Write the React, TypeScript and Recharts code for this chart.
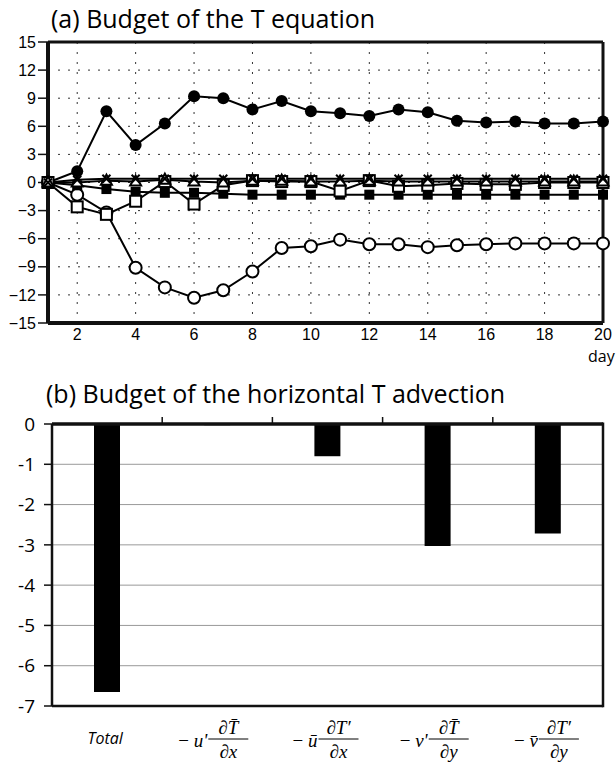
import { Bar, BarChart, CartesianGrid, Line, LineChart, ReferenceLine, XAxis, YAxis } from "recharts";

// (a) T 방정식 수지 — 일별 값
const days = [1, 2, 3, 4, 5, 6, 7, 8, 9, 10, 11, 12, 13, 14, 15, 16, 17, 18, 19, 20];
const tendency = [0, 1.2, 7.6, 4.0, 6.3, 9.2, 9.0, 7.8, 8.7, 7.6, 7.4, 7.1, 7.8, 7.5, 6.6, 6.4, 6.5, 6.3, 6.3, 6.5];
const horizAdv = [0, -1.3, -3.2, -9.1, -11.2, -12.3, -11.5, -9.5, -7.0, -6.8, -6.1, -6.6, -6.6, -6.9, -6.7, -6.6, -6.5, -6.5, -6.5, -6.5];
const vertAdv = [0, -2.6, -3.4, -2.0, 0.1, -2.3, -0.3, 0.2, 0.1, 0.1, -0.9, 0.2, -0.4, -0.3, -0.1, -0.2, -0.2, 0.0, 0.0, 0.0];
const damping = [0, -0.3, -0.7, -1.0, -1.1, -1.1, -1.2, -1.3, -1.3, -1.3, -1.3, -1.3, -1.3, -1.3, -1.3, -1.3, -1.3, -1.3, -1.3, -1.3];
const forcing = [0, 0.0, 0.2, 0.1, 0.3, 0.1, 0.0, 0.2, 0.2, 0.1, 0.1, 0.2, 0.1, 0.1, 0.1, 0.1, 0.1, 0.1, 0.1, 0.1];
const residual = [0, 0.3, 0.4, 0.4, 0.4, 0.4, 0.4, 0.4, 0.4, 0.4, 0.4, 0.4, 0.4, 0.4, 0.4, 0.4, 0.4, 0.4, 0.4, 0.4];
const dayTicks = [2, 4, 6, 8, 10, 12, 14, 16, 18, 20];
const tTicks = [-15, -12, -9, -6, -3, 0, 3, 6, 9, 12, 15];

// (b) 수평 이류 분해
const termPrefix = ["", "u'", "\u016B", "v'", "v\u0304"];
const termNumer = ["", "\u2202T\u0304", "\u2202T\u2032", "\u2202T\u0304", "\u2202T\u2032"];
const termDenom = ["", "\u2202x", "\u2202x", "\u2202y", "\u2202y"];
const advValues = [-6.65, -0.03, -0.8, -3.03, -2.72];
const advTicks = [0, -1, -2, -3, -4, -5, -6, -7];

const lineData = days.map((d, i) => ({
  day: d,
  tendency: tendency[i],
  horizAdv: horizAdv[i],
  vertAdv: vertAdv[i],
  damping: damping[i],
  forcing: forcing[i],
  residual: residual[i],
}));
const barData = advValues.map((v, i) => ({ term: i, value: v }));

const sans = "'Open Sans', sans-serif";
const arial = "'Liberation Sans', Arial, sans-serif";
const ink = "#111";

const W = 616;
const B = { top: 24, left: 52, right: 13, height: 364, xAxisH: 58 };

const FilledCircle = (p: any) => <circle key={p.index} cx={p.cx} cy={p.cy} r={6} fill="#000" />;
const OpenCircle = (p: any) => (
  <circle key={p.index} cx={p.cx} cy={p.cy} r={6} fill="#fff" stroke="#000" strokeWidth={2} />
);
const FilledSquare = (p: any) => <rect key={p.index} x={p.cx - 5} y={p.cy - 5} width={10} height={10} fill="#000" />;
const OpenSquare = (p: any) => (
  <rect key={p.index} x={p.cx - 5.5} y={p.cy - 5.5} width={11} height={11} fill="#fff" stroke="#000" strokeWidth={2} />
);
const Triangle = (p: any) => (
  <polygon
    key={p.index}
    points={`${p.cx},${p.cy - 6} ${p.cx - 5.5},${p.cy + 4} ${p.cx + 5.5},${p.cy + 4}`}
    fill="#fff"
    stroke="#000"
    strokeWidth={2}
  />
);
const Cross = (p: any) => (
  <g key={p.index} stroke="#000" strokeWidth={2}>
    <line x1={p.cx - 4} y1={p.cy - 4} x2={p.cx + 4} y2={p.cy + 4} />
    <line x1={p.cx - 4} y1={p.cy + 4} x2={p.cx + 4} y2={p.cy - 4} />
  </g>
);

const minus = (v: number) => String(v).replace("-", "\u2212");

function AdvTick(props: any) {
  const { x, y, payload } = props;
  const i = payload.value as number;
  if (i === 0) {
    return (
      <text x={x - 2} y={y + 38} textAnchor="middle" fontFamily={sans} fontStyle="italic" fontSize={16} fill="#000">
        Total
      </text>
    );
  }
  return (
    <g fontFamily="'Liberation Serif', serif" fontStyle="italic" fontSize={19} fill="#000">
      <text x={x - 10} y={y + 41} textAnchor="end">
        <tspan fontStyle="normal">{"\u2212 "}</tspan>
        {termPrefix[i]}
      </text>
      <text x={x + 11} y={y + 28} textAnchor="middle">{termNumer[i]}</text>
      <line x1={x - 9} x2={x + 31} y1={y + 33} y2={y + 33} stroke="#000" strokeWidth={1} />
      <text x={x + 11} y={y + 52} textAnchor="middle">{termDenom[i]}</text>
    </g>
  );
}

export default function App() {
  const plotW = W - B.left - B.right;
  const plotH = B.height - B.top - B.xAxisH;
  const band = plotW / advValues.length;
  return (
    <div style={{ position: "absolute", left: 0, top: 0, width: W, height: 764, background: "#fff" }}>
      <div style={{ position: "absolute", left: 51, top: 1, fontFamily: sans, fontSize: 25, whiteSpace: "nowrap" }}>
        (a) Budget of the T equation
      </div>
      <div style={{ position: "absolute", left: 0, top: 0 }}>
        <LineChart width={W} height={370} data={lineData} margin={{ top: 42, right: 13, bottom: 0, left: 0 }}>
          <CartesianGrid stroke="#333" strokeDasharray="2 8" strokeWidth={1} />
          <XAxis
            dataKey="day"
            type="number"
            domain={[1, 20]}
            ticks={dayTicks}
            height={47}
            stroke={ink}
            tickLine={false}
            axisLine={{ stroke: ink, strokeWidth: 4 }}
            tickSize={4}
            tickMargin={2}
            tick={{ fontFamily: arial, fontSize: 16, fill: "#000" }}
          />
          <YAxis
            domain={[-15, 15]}
            ticks={tTicks}
            width={48}
            interval={0}
            tickSize={10}
            tickMargin={2}
            tickFormatter={minus}
            stroke={ink}
            axisLine={{ stroke: ink, strokeWidth: 4 }}
            tickLine={{ stroke: ink, strokeWidth: 1.5 }}
            tick={{ fontFamily: arial, fontSize: 16, fill: "#000" }}
          />
          <ReferenceLine y={15} stroke={ink} strokeWidth={3} ifOverflow="visible" />
          <ReferenceLine x={20} stroke={ink} strokeWidth={3} ifOverflow="visible" />
          <Line dataKey="horizAdv" stroke="#000" strokeWidth={2} dot={OpenCircle} isAnimationActive={false} />
          <Line dataKey="tendency" stroke="#000" strokeWidth={2} dot={FilledCircle} isAnimationActive={false} />
          <Line dataKey="damping" stroke="#000" strokeWidth={2} dot={FilledSquare} isAnimationActive={false} />
          <Line dataKey="vertAdv" stroke="#000" strokeWidth={2} dot={OpenSquare} isAnimationActive={false} />
          <Line dataKey="forcing" stroke="#000" strokeWidth={2} dot={Triangle} isAnimationActive={false} />
          <Line dataKey="residual" stroke="#000" strokeWidth={2} dot={Cross} isAnimationActive={false} />
        </LineChart>
      </div>
      <div style={{ position: "absolute", left: 588, top: 345, fontFamily: sans, fontSize: 16 }}>day</div>

      <div style={{ position: "absolute", left: 46, top: 376, fontFamily: sans, fontSize: 25, whiteSpace: "nowrap" }}>
        (b) Budget of the horizontal T advection
      </div>
      <div style={{ position: "absolute", left: 0, top: 400 }}>
        <BarChart width={W} height={B.height} data={barData} margin={{ top: B.top, right: B.right, bottom: 0, left: 0 }}>
          <CartesianGrid stroke="#999" vertical={false} />
          <XAxis
            dataKey="term"
            height={B.xAxisH}
            stroke={ink}
            axisLine={{ stroke: ink, strokeWidth: 2.5 }}
            tickLine={false}
            tickSize={0}
            tickMargin={0}
            interval={0}
            tick={<AdvTick />}
          />
          <YAxis
            domain={[-7, 0]}
            ticks={advTicks}
            width={B.left}
            interval={0}
            tickSize={8}
            tickMargin={9}
            stroke={ink}
            axisLine={{ stroke: ink, strokeWidth: 2.5 }}
            tickLine={{ stroke: ink, strokeWidth: 1.5 }}
            tick={{ fontFamily: sans, fontSize: 19, fill: "#000" }}
          />
          <Bar dataKey="value" fill="#000" barSize={26} isAnimationActive={false} />
          <ReferenceLine y={0} stroke={ink} strokeWidth={3.5} ifOverflow="visible" />
        </BarChart>
        <svg width={W} height={B.height} style={{ position: "absolute", left: 0, top: 0, pointerEvents: "none" }}>
          <line
            x1={B.left + plotW}
            x2={B.left + plotW}
            y1={B.top - 1.5}
            y2={B.top + plotH + 1.25}
            stroke={ink}
            strokeWidth={2.5}
          />
          {advValues.slice(1).map((_, k) => (
            <line
              key={k}
              x1={B.left + band * (k + 1)}
              x2={B.left + band * (k + 1)}
              y1={B.top - 7}
              y2={B.top}
              stroke={ink}
              strokeWidth={1.5}
            />
          ))}
        </svg>
      </div>
    </div>
  );
}
